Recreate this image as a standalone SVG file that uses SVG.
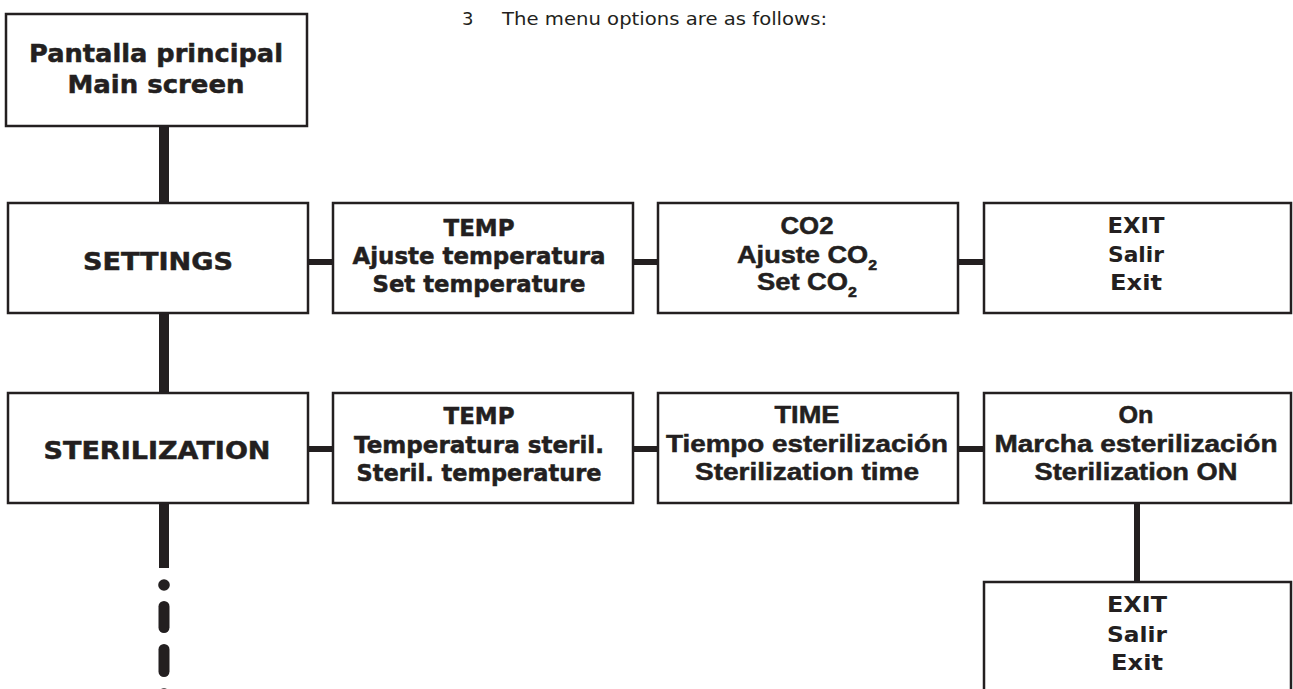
<svg xmlns="http://www.w3.org/2000/svg" width="1293" height="689" viewBox="0 0 1293 689">
<style>
.box{fill:#fff;stroke:#231f20;stroke-width:2.5}
.w{font-family:"DejaVu Sans",sans-serif;font-weight:bold;fill:#231f20;stroke:#231f20;stroke-width:0.5;text-anchor:middle}
.x{font-family:"DejaVu Sans",sans-serif;font-weight:bold;fill:#231f20;text-anchor:middle}
.c{font-family:"Liberation Sans",Arial,sans-serif;font-weight:bold;fill:#231f20;stroke:#231f20;stroke-width:0.5;text-anchor:middle}
.con{fill:#231f20}
</style>
<rect width="1293" height="689" fill="#fff"/>
<text x="462" y="25" font-family="DejaVu Sans, sans-serif" font-size="18" fill="#231f20">3</text>
<text x="502" y="25" font-family="DejaVu Sans, sans-serif" font-size="18" fill="#231f20" textLength="325" lengthAdjust="spacingAndGlyphs">The menu options are as follows:</text>
<g id="connectors">
<rect class="con" x="159" y="126" width="10" height="77"/>
<rect class="con" x="159" y="313" width="10" height="79"/>
<rect class="con" x="159" y="503" width="10" height="65"/>
<circle class="con" cx="164" cy="585" r="5.8"/>
<rect class="con" x="158.5" y="601" width="11" height="32" rx="5.5"/>
<rect class="con" x="158.5" y="644" width="11" height="33" rx="5.5"/>
<circle class="con" cx="164" cy="694" r="5.8"/>
<rect class="con" x="308" y="259" width="25" height="6"/>
<rect class="con" x="633" y="259" width="25" height="6"/>
<rect class="con" x="958" y="259" width="26" height="6"/>
<rect class="con" x="308" y="446" width="25" height="6"/>
<rect class="con" x="633" y="446" width="25" height="6"/>
<rect class="con" x="958" y="446" width="26" height="6"/>
<rect class="con" x="1134" y="503" width="6" height="79"/>
</g>
<g id="main">
<rect class="box" x="6" y="14" width="301" height="112"/>
<text class="w" x="156" y="62" font-size="25" textLength="254" lengthAdjust="spacingAndGlyphs">Pantalla principal</text>
<text class="w" x="156" y="93" font-size="25" textLength="177" lengthAdjust="spacingAndGlyphs">Main screen</text>
</g>
<g id="settings">
<rect class="box" x="8" y="203" width="300" height="110"/>
<text class="w" x="158" y="270" font-size="24" textLength="150" lengthAdjust="spacingAndGlyphs">SETTINGS</text>
</g>
<g id="set-temp">
<rect class="box" x="333" y="203" width="300" height="110"/>
<text class="w" x="479" y="236" font-size="23" textLength="71" lengthAdjust="spacingAndGlyphs">TEMP</text>
<text class="w" x="479" y="264" font-size="23" textLength="253" lengthAdjust="spacingAndGlyphs">Ajuste temperatura</text>
<text class="w" x="479" y="292" font-size="23" textLength="213" lengthAdjust="spacingAndGlyphs">Set temperature</text>
</g>
<g id="set-co2">
<rect class="box" x="658" y="203" width="300" height="110"/>
<text class="c" x="807" y="234" font-size="24" textLength="53" lengthAdjust="spacingAndGlyphs">CO2</text>
<text class="c" x="807" y="263" font-size="24" textLength="140" lengthAdjust="spacingAndGlyphs">Ajuste CO<tspan font-size="14" dy="7">2</tspan></text>
<text class="c" x="807" y="290" font-size="24" textLength="100" lengthAdjust="spacingAndGlyphs">Set CO<tspan font-size="14" dy="7">2</tspan></text>
</g>
<g id="set-exit">
<rect class="box" x="984" y="203" width="307" height="110"/>
<text class="x" x="1136" y="233" font-size="22" textLength="57" lengthAdjust="spacingAndGlyphs">EXIT</text>
<text class="x" x="1136" y="262" font-size="22" textLength="56" lengthAdjust="spacingAndGlyphs">Salir</text>
<text class="x" x="1136" y="290" font-size="22" textLength="52" lengthAdjust="spacingAndGlyphs">Exit</text>
</g>
<g id="sterilization">
<rect class="box" x="8" y="393" width="300" height="110"/>
<text class="w" x="157" y="459" font-size="24" textLength="227" lengthAdjust="spacingAndGlyphs">STERILIZATION</text>
</g>
<g id="ster-temp">
<rect class="box" x="333" y="393" width="300" height="110"/>
<text class="w" x="479" y="424" font-size="23" textLength="71" lengthAdjust="spacingAndGlyphs">TEMP</text>
<text class="w" x="479" y="453" font-size="23" textLength="250" lengthAdjust="spacingAndGlyphs">Temperatura steril.</text>
<text class="w" x="479" y="481" font-size="23" textLength="245" lengthAdjust="spacingAndGlyphs">Steril. temperature</text>
</g>
<g id="ster-time">
<rect class="box" x="658" y="393" width="300" height="110"/>
<text class="c" x="807" y="423" font-size="24" textLength="65" lengthAdjust="spacingAndGlyphs">TIME</text>
<text class="c" x="807" y="452" font-size="24" textLength="282" lengthAdjust="spacingAndGlyphs">Tiempo esterilización</text>
<text class="c" x="807" y="480" font-size="24" textLength="224" lengthAdjust="spacingAndGlyphs">Sterilization time</text>
</g>
<g id="ster-on">
<rect class="box" x="984" y="393" width="307" height="110"/>
<text class="c" x="1136" y="423" font-size="24" textLength="35" lengthAdjust="spacingAndGlyphs">On</text>
<text class="c" x="1136" y="452" font-size="24" textLength="283" lengthAdjust="spacingAndGlyphs">Marcha esterilización</text>
<text class="c" x="1136" y="480" font-size="24" textLength="203" lengthAdjust="spacingAndGlyphs">Sterilization ON</text>
</g>
<g id="ster-exit">
<rect class="box" x="984" y="582" width="307" height="130"/>
<text class="x" x="1137" y="612" font-size="22" textLength="60" lengthAdjust="spacingAndGlyphs">EXIT</text>
<text class="x" x="1137" y="642" font-size="22" textLength="60" lengthAdjust="spacingAndGlyphs">Salir</text>
<text class="x" x="1137" y="670" font-size="22" textLength="52" lengthAdjust="spacingAndGlyphs">Exit</text>
</g>
</svg>
